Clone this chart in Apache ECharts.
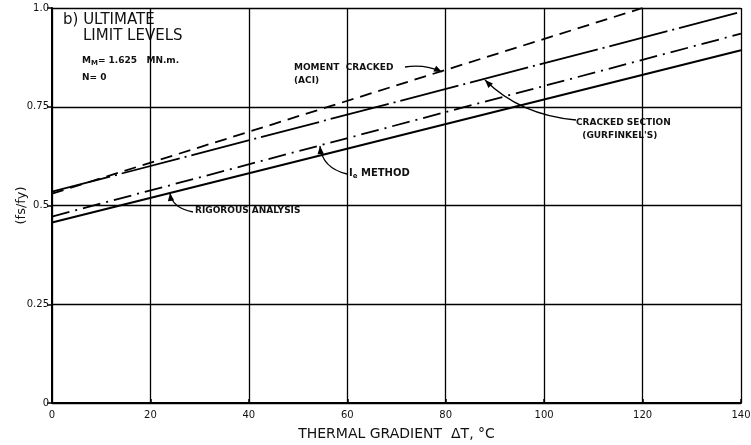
<!DOCTYPE html>
<html>
<head>
<meta charset="utf-8">
<script src="https://cdn.jsdelivr.net/npm/echarts@6/dist/echarts.min.js"></script>
<style>html,body{margin:0;padding:0;background:#fff}#c{width:751px;height:445px}</style>
</head>
<body>
<div id="c"></div>
<script>
// Data
var xTicks = [0, 20, 40, 60, 80, 100, 120, 140];
var yTicks = [0, 0.25, 0.5, 0.75, 1.0];
var momentCrackedACI = [[0, 0.53], [120, 1.0]];
var crackedSectionGurfinkel = [[0, 0.535], [140, 0.99]];
var ieMethod = [[0, 0.472], [140, 0.935]];
var rigorousAnalysis = [[0, 0.457], [140, 0.893]];

var chart = echarts.init(document.getElementById('c'));
var F = '"DejaVu Sans", sans-serif';
var FF = 'DejaVu Sans';
var textCol = '#111';

function arrow(x0, y0, cx, cy, x1, y1) {
  var ang = Math.atan2(y1 - cy, x1 - cx);
  var L = 8, W = 3.2;
  var bx = x1 - L * Math.cos(ang), by = y1 - L * Math.sin(ang);
  var px = -Math.sin(ang) * W, py = Math.cos(ang) * W;
  return [
    {type: 'bezierCurve', shape: {x1: x0, y1: y0, x2: x1, y2: y1, cpx1: cx, cpy1: cy}, style: {stroke: '#000', lineWidth: 1.3, fill: null}},
    {type: 'polygon', shape: {points: [[x1, y1], [bx + px, by + py], [bx - px, by - py]]}, style: {fill: '#000'}}
  ];
}

var graphics = [
  {type: 'text', left: 63, top: 13, style: {text: 'b) ULTIMATE', fontFamily: FF, fontSize: 15, fill: textCol}},
  {type: 'text', left: 83, top: 29, style: {text: 'LIMIT LEVELS', fontFamily: FF, fontSize: 15, fill: textCol}},
  {type: 'text', left: 82, top: 56, style: {text: '{a|M}{s|M}{a|= 1.625   MN.m.}', rich: {a: {fontFamily: FF, fontSize: 9, fontWeight: 'bold', fill: textCol}, s: {fontFamily: FF, fontSize: 7, fontWeight: 'bold', fill: textCol, padding: [6, 0, 0, 0]}}}},
  {type: 'text', left: 82, top: 73, style: {text: 'N= 0', fontFamily: FF, fontSize: 9, fontWeight: 'bold', fill: textCol}},
  {type: 'text', left: 294, top: 61, style: {text: 'MOMENT  CRACKED\n(ACI)', fontFamily: FF, fontSize: 9, fontWeight: 'bold', fill: textCol, lineHeight: 13}},
  {type: 'text', left: 576, top: 116, style: {text: 'CRACKED SECTION\n  (GURFINKEL\'S)', fontFamily: FF, fontSize: 9, fontWeight: 'bold', fill: textCol, lineHeight: 13}},
  {type: 'text', left: 349, top: 168, style: {text: '{a|I}{s|e}{a| METHOD}', rich: {a: {fontFamily: FF, fontSize: 10, fontWeight: 'bold', fill: textCol}, s: {fontFamily: FF, fontSize: 7, fontWeight: 'bold', fill: textCol, padding: [6, 0, 0, 0]}}}},
  {type: 'text', left: 195, top: 206, style: {text: 'RIGOROUS ANALYSIS', fontFamily: FF, fontSize: 9, fontWeight: 'bold', fill: textCol}}
];
graphics = graphics.concat(
  arrow(405, 67, 425, 64, 442, 72),
  arrow(576, 120, 520, 115, 485, 80),
  arrow(347, 174, 322, 168, 320, 146),
  arrow(193, 212, 172, 208, 170, 193)
);

chart.setOption({
  animation: false,
  backgroundColor: '#fff',
  grid: {left: 52, right: 10, top: 8, bottom: 42, containLabel: false, outerBoundsMode: 'none', show: false},
  xAxis: {
    type: 'value', min: 0, max: 140, interval: 20,
    name: 'THERMAL GRADIENT  \u0394T, \u00B0C', nameLocation: 'middle', nameGap: 24,
    nameTextStyle: {fontFamily: F, fontSize: 14, color: textCol},
    axisLine: {show: true, lineStyle: {color: '#000', width: 2}},
    axisTick: {show: true, inside: true, length: 4, lineStyle: {color: '#000', width: 1.5}},
    axisLabel: {fontFamily: F, fontSize: 10, color: textCol, margin: 7},
    splitLine: {show: true, lineStyle: {color: '#000', width: 1.3}}
  },
  yAxis: {
    type: 'value', min: 0, max: 1.0, interval: 0.25,
    name: '(fs/fy)', nameLocation: 'middle', nameGap: 24, nameRotate: 90, nameMoveOverlap: false,
    nameTextStyle: {fontFamily: F, fontSize: 13, color: textCol},
    axisLine: {show: true, lineStyle: {color: '#000', width: 2}},
    axisTick: {show: true, length: 5, lineStyle: {color: '#000', width: 1.5}},
    axisLabel: {fontFamily: F, fontSize: 10, color: textCol, margin: 3,
      formatter: function (v) { return v === 0 ? '0' : (v === 1 ? '1.0' : String(v)); }},
    splitLine: {show: true, lineStyle: {color: '#000', width: 1.3}}
  },
  series: [
    {name: 'Moment cracked (ACI)', type: 'line', data: momentCrackedACI, symbol: 'none',
      lineStyle: {color: '#000', width: 1.8, type: [12, 7]}},
    {name: "Cracked section (Gurfinkel's)", type: 'line', data: crackedSectionGurfinkel, symbol: 'none',
      lineStyle: {color: '#000', width: 1.8, type: [60, 5, 2, 5]}},
    {name: 'Ie method', type: 'line', data: ieMethod, symbol: 'none',
      lineStyle: {color: '#000', width: 1.8, type: [18, 6, 2, 6]}},
    {name: 'Rigorous analysis', type: 'line', data: rigorousAnalysis, symbol: 'none',
      lineStyle: {color: '#000', width: 2}}
  ],
  graphic: graphics
});
</script>
</body>
</html>
